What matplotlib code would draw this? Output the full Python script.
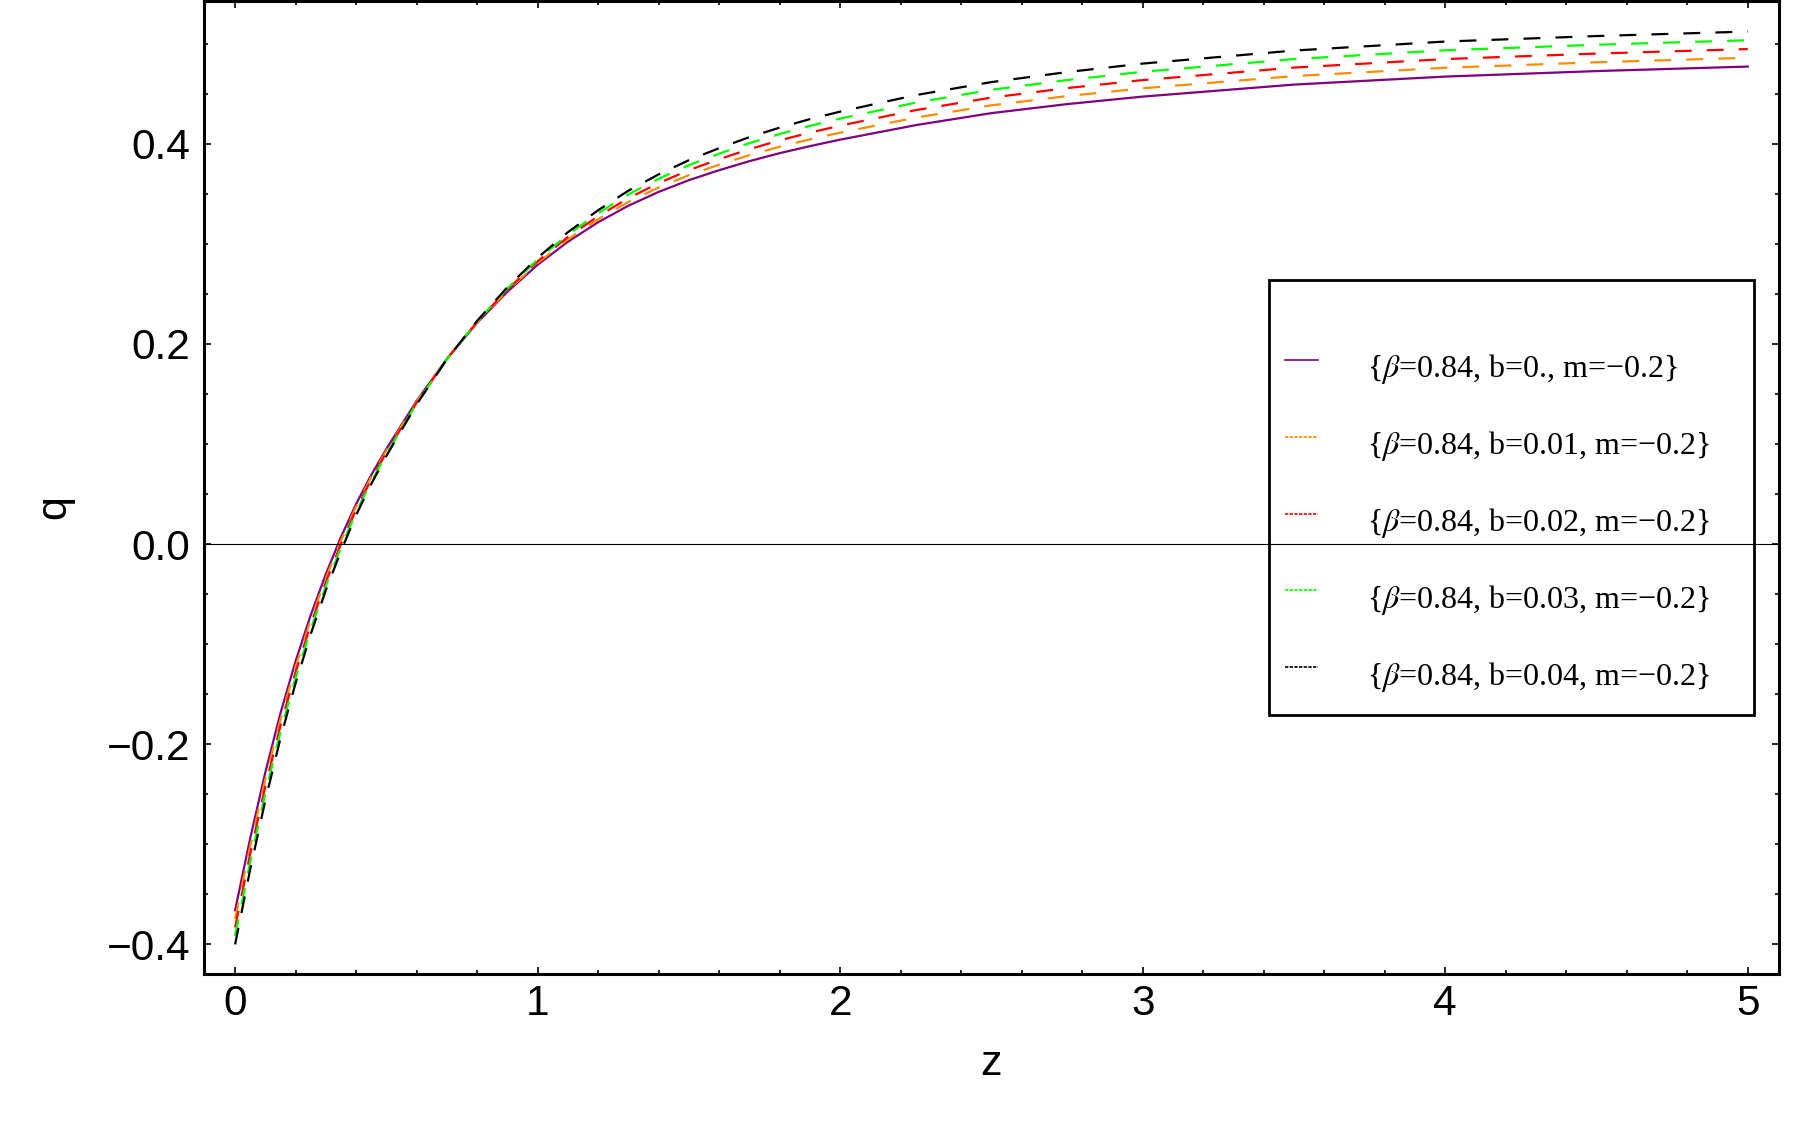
import matplotlib
matplotlib.use("Agg")
import matplotlib.pyplot as plt
from matplotlib.ticker import FixedLocator, FuncFormatter

# redshift samples
z = [0, 0.05, 0.1, 0.15, 0.2, 0.25, 0.3, 0.35, 0.4, 0.45, 0.5, 0.6, 0.7, 0.8, 0.9,
     1.0, 1.1, 1.2, 1.3, 1.4, 1.5, 1.6, 1.7, 1.8, 1.9, 2.0, 2.25, 2.5, 2.75, 3.0,
     3.5, 4.0, 4.5, 5.0]

# deceleration parameter q(z), one list per b value
q_b000 = [-0.366, -0.294, -0.228, -0.169, -0.117, -0.071, -0.030, 0.007, 0.040, 0.069,
          0.095, 0.143, 0.185, 0.221, 0.252, 0.279, 0.302, 0.3215, 0.338, 0.3518,
          0.3635, 0.3735, 0.3825, 0.3905, 0.3975, 0.404, 0.4185, 0.4305, 0.4395, 0.447,
          0.459, 0.467, 0.4725, 0.477]
q_b001 = [-0.3745, -0.3018, -0.235, -0.1753, -0.1225, -0.0758, -0.034, 0.0035, 0.0373, 0.0668,
          0.0933, 0.1421, 0.1849, 0.2215, 0.2531, 0.2808, 0.3044, 0.3245, 0.3418, 0.3562,
          0.3685, 0.379, 0.3885, 0.3969, 0.4043, 0.411, 0.426, 0.4383, 0.4475, 0.4553,
          0.4675, 0.4758, 0.4813, 0.4858]
q_b002 = [-0.383, -0.3095, -0.242, -0.1815, -0.128, -0.0805, -0.038, 0.000, 0.0345, 0.0645,
          0.0915, 0.1413, 0.1848, 0.222, 0.2543, 0.2825, 0.3068, 0.3275, 0.3455, 0.3606,
          0.3735, 0.3845, 0.3945, 0.4033, 0.411, 0.418, 0.4335, 0.446, 0.4555, 0.4635,
          0.476, 0.4845, 0.490, 0.4945]
q_b003 = [-0.3915, -0.3173, -0.249, -0.1878, -0.1335, -0.0853, -0.042, -0.0035, 0.0318, 0.0623,
          0.0898, 0.1404, 0.1846, 0.2225, 0.2554, 0.2843, 0.3091, 0.3305, 0.3493, 0.3649,
          0.3785, 0.390, 0.4005, 0.4096, 0.4178, 0.425, 0.441, 0.4538, 0.4635, 0.4718,
          0.4845, 0.4933, 0.4988, 0.5033]
q_b004 = [-0.400, -0.325, -0.256, -0.194, -0.139, -0.090, -0.046, -0.007, 0.029, 0.060,
          0.088, 0.1395, 0.1845, 0.223, 0.2565, 0.286, 0.3115, 0.3335, 0.353, 0.3693,
          0.3835, 0.3955, 0.4065, 0.416, 0.4245, 0.432, 0.4485, 0.4615, 0.4715, 0.480,
          0.493, 0.502, 0.5075, 0.512]

labels = [r"{$\beta$=0.84, b=0., m=−0.2}",
          r"{$\beta$=0.84, b=0.01, m=−0.2}",
          r"{$\beta$=0.84, b=0.02, m=−0.2}",
          r"{$\beta$=0.84, b=0.03, m=−0.2}",
          r"{$\beta$=0.84, b=0.04, m=−0.2}"]
colors = ["#800080", "#ff8c00", "#ff0000", "#00ff00", "#000000"]

x_ticks = [0, 1, 2, 3, 4, 5]
y_ticks = [-0.4, -0.2, 0.0, 0.2, 0.4]

plt.rcParams["mathtext.fontset"] = "stix"
plt.rcParams["font.family"] = ["Liberation Sans", "DejaVu Sans"]

fig = plt.figure(figsize=(18, 11.25), dpi=100)
ax = fig.add_axes([0.1133, 0.1342, 0.875, 0.8649])

series = [q_b000, q_b001, q_b002, q_b003, q_b004]
for i, (q, c, lab) in enumerate(zip(series, colors, labels)):
    if i == 0:
        ax.plot(z, q, color=c, lw=1.6, label=lab, zorder=3)
    else:
        ax.plot(z, q, color=c, lw=1.6, dashes=(7.6, 6.8), label=lab, zorder=3 + i)

# q = 0 axis line, drawn above the legend like the original
ax.axhline(0, color="black", lw=0.8, zorder=10)

ax.set_xlim(-0.103, 5.103)
ax.set_ylim(-0.4296, 0.5425)

ax.xaxis.set_major_locator(FixedLocator(x_ticks))
ax.xaxis.set_minor_locator(FixedLocator([v / 5 for v in range(0, 26) if v % 5]))
ax.yaxis.set_major_locator(FixedLocator(y_ticks))
ax.yaxis.set_minor_locator(FixedLocator([v / 20 for v in range(-8, 11) if v % 4]))
ax.xaxis.set_major_formatter(FuncFormatter(lambda v, p: f"{v:.0f}"))
ax.yaxis.set_major_formatter(FuncFormatter(lambda v, p: f"{v:.1f}".replace("-", "−")))

ax.tick_params(which="both", direction="in", top=True, right=True, width=1.2)
ax.tick_params(which="major", length=5)
ax.tick_params(which="minor", length=3)
ax.tick_params(axis="both", labelsize=30.5)
ax.tick_params(axis="y", pad=10)
ax.tick_params(axis="x", pad=7)
for sp in ax.spines.values():
    sp.set_linewidth(2.2)

ax.set_xlabel("z", fontsize=31)
ax.set_ylabel("q", fontsize=31)
ax.xaxis.set_label_coords(0.5, -0.072)
ax.yaxis.set_label_coords(-0.0822, 0.48)

leg = ax.legend(loc="upper left", bbox_to_anchor=(0.705, 0.2, 0.2694, 0.5511),
                bbox_transform=fig.transFigure, mode="expand", borderaxespad=0,
                prop={"family": "Liberation Serif", "size": 23},
                title=" ", title_fontsize=14.5,
                handlelength=1.04, handleheight=2.0, handletextpad=1.52,
                labelspacing=0.86, borderpad=0.5,
                fancybox=False, framealpha=1, edgecolor="black")
leg.get_frame().set_linewidth(2.0)
leg.set_zorder(5)
for i, ln in enumerate(leg.get_lines()):
    ln.set_linewidth(1.2)
    if i > 0:
        ln.set_dashes((2.0, 0.8))

fig.savefig("out.png", dpi=100)
